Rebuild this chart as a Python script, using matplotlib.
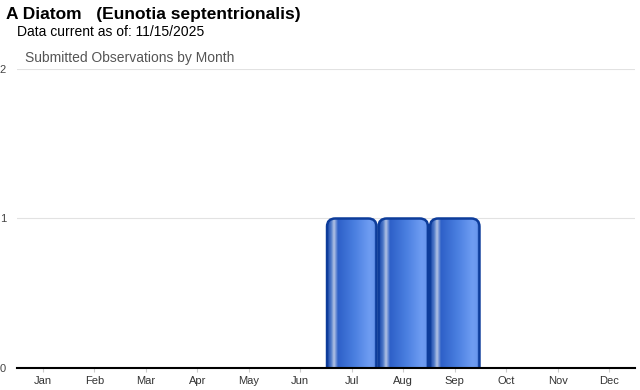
import numpy as np
import matplotlib.pyplot as plt
from matplotlib.patches import FancyBboxPatch
from matplotlib.colors import LinearSegmentedColormap

months = ["Jan", "Feb", "Mar", "Apr", "May", "Jun", "Jul", "Aug", "Sep", "Oct", "Nov", "Dec"]
counts = [0, 0, 0, 0, 0, 0, 1, 1, 1, 0, 0, 0]

plt.rcParams['font.family'] = ['Liberation Sans', 'DejaVu Sans']

fig = plt.figure(figsize=(6.4, 3.9), dpi=100)
ax = fig.add_axes([17 / 640, 1 - 368 / 390, 618 / 640, 299 / 390])

# horizontal gradient for the "cylinder" look
grad = LinearSegmentedColormap.from_list("bar", [
    (0.0, "#1846a8"), (0.08, "#4d78c8"), (0.14, "#b4c4e4"), (0.22, "#2e60c8"),
    (0.55, "#4a7fe0"), (0.85, "#6e9cf2"), (0.94, "#6a98ee"), (1.0, "#1a4cb0")])
row = np.linspace(0, 1, 256).reshape(1, -1)

width = 0.96
for i, v in enumerate(counts):
    if v <= 0:
        continue
    x0 = i - width / 2
    patch = FancyBboxPatch((x0, -0.2), width, v + 0.2,
                           boxstyle="round,pad=0,rounding_size=0.16",
                           mutation_aspect=0.34, facecolor="none",
                           edgecolor="#0d3c9a", linewidth=1.8, zorder=3)
    ax.add_patch(patch)
    im = ax.imshow(row, cmap=grad, aspect="auto", extent=(x0, x0 + width, -0.2, v),
                   zorder=2, interpolation="bilinear")
    im.set_clip_path(patch)

ax.set_xlim(-0.5, 11.5)
ax.set_ylim(0, 2)
ax.set_xticks(range(12))
ax.set_xticklabels(months)
ax.set_yticks([0, 1, 2])
ax.tick_params(axis="x", length=3, color="#cccccc", labelsize=8, labelcolor="#333333", pad=3)
ax.tick_params(axis="y", length=0, labelsize=8, labelcolor="#444444", pad=8)
ax.grid(axis="y", color="#e2e2e2", linewidth=0.8)
ax.set_axisbelow(True)
for s in ["left", "right", "top"]:
    ax.spines[s].set_visible(False)
ax.spines["bottom"].set_linewidth(1.5)
ax.spines["bottom"].set_color("black")
ax.spines["bottom"].set_zorder(5)

fig.text(6 / 640, 1 - 15 / 390, "A Diatom   (Eunotia septentrionalis)",
         fontsize=12.5, fontweight="bold", va="center", ha="left")
fig.text(17 / 640, 1 - 32 / 390, "Data current as of: 11/15/2025",
         fontsize=10, va="center", ha="left")
fig.text(25 / 640, 1 - 58 / 390, "Submitted Observations by Month",
         fontsize=10, color="#555555", va="center", ha="left")

fig.savefig("out.png", dpi=100)
